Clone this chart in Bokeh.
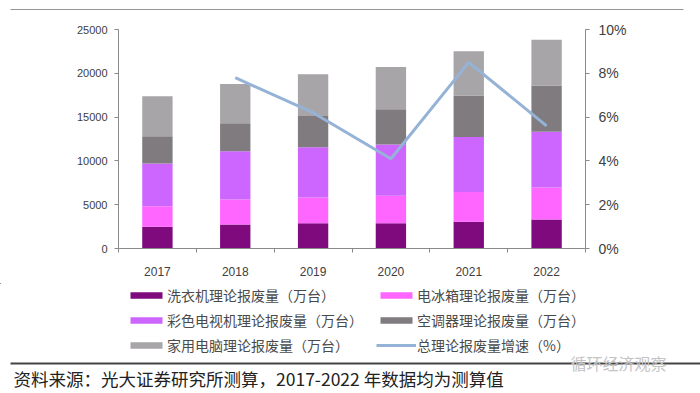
from bokeh.plotting import figure
from bokeh.models import (ColumnDataSource, Range1d, LinearAxis, FixedTicker,
                          PrintfTickFormatter, Legend, LegendItem, Label, BoxAnnotation)
from bokeh.embed import file_html
from bokeh.resources import INLINE

years = ["2017", "2018", "2019", "2020", "2021", "2022"]
washer = [2470, 2740, 2890, 2890, 3040, 3310]
fridge = [2360, 2850, 2930, 3120, 3420, 3650]
tv = [4860, 5510, 5740, 5850, 6270, 6380]
ac = [3120, 3190, 3570, 4030, 4750, 5280]
pc = [4560, 4480, 4750, 4830, 5050, 5210]
growth_years = ["2018", "2019", "2020", "2021", "2022"]
growth = [7.8, 6.2, 4.1, 8.5, 5.6]

names = ["洗衣机理论报废量（万台）", "电冰箱理论报废量（万台）", "彩色电视机理论报废量（万台）",
         "空调器理论报废量（万台）", "家用电脑理论报废量（万台）"]
line_name = "总理论报废量增速（%）"
colors = ["#7E0A7E", "#FF66FF", "#CC66FF", "#7F7B7F", "#A8A5A8"]
line_color = "#95B3D7"
keys = ["washer", "fridge", "tv", "ac", "pc"]

W = 700

# ---- thin top rule ----
f_top = figure(width=W, height=10, output_backend="svg", toolbar_location=None,
               x_axis_type=None, y_axis_type=None, min_border_left=10, min_border_right=17,
               min_border_top=7, min_border_bottom=1)
f_top.outline_line_color = None
f_top.grid.visible = False
f_top.background_fill_color = "#2b2b2b"
f_top.border_fill_color = "white"

# ---- main chart ----
xs = list(range(len(years)))
src = ColumnDataSource(dict(x=xs, washer=washer, fridge=fridge, tv=tv, ac=ac, pc=pc))
gx = [years.index(y) for y in growth_years]
gsrc = ColumnDataSource(dict(x=gx, g=growth))

p = figure(width=W, height=273, output_backend="svg", toolbar_location=None,
           x_range=Range1d(-0.5, len(years) - 0.5), y_range=Range1d(0, 25000),
           min_border_left=118, min_border_right=115, min_border_top=19, min_border_bottom=35)
p.extra_y_ranges = {"pct": Range1d(0, 10)}
p.outline_line_color = None
p.grid.visible = False

bars = p.vbar_stack(keys, x="x", width=0.39, color=colors, line_color=None, source=src)
ln = p.line("x", "g", source=gsrc, y_range_name="pct", line_color=line_color, line_width=3)

axc = "#8a8a8a"
tc = "#404040"
xa = p.xaxis[0]
xa.ticker = FixedTicker(ticks=xs, minor_ticks=[i - 0.5 for i in range(len(years) + 1)])
xa.major_label_overrides = {i: y for i, y in zip(xs, years)}
xa.major_tick_out = 0
xa.major_tick_in = 0
xa.major_tick_line_color = None
xa.minor_tick_in = 0
xa.minor_tick_out = 4
xa.minor_tick_line_color = axc
xa.axis_line_color = axc
xa.major_label_standoff = 14
xa.major_label_text_font = "Liberation Sans"
xa.major_label_text_font_size = "12px"
xa.major_label_text_color = tc

ya = p.yaxis[0]
ya.ticker = FixedTicker(ticks=[0, 5000, 10000, 15000, 20000, 25000])
ya.major_tick_in = 0
ya.major_tick_out = 4
ya.minor_tick_line_color = None
ya.major_tick_line_color = axc
ya.axis_line_color = axc
ya.major_label_standoff = 7
ya.major_label_text_font = "Liberation Sans"
ya.major_label_text_font_size = "11px"
ya.major_label_text_color = tc

ra = LinearAxis(y_range_name="pct", ticker=FixedTicker(ticks=[0, 2, 4, 6, 8, 10]),
                formatter=PrintfTickFormatter(format="%d%%"))
ra.major_tick_in = 0
ra.major_tick_out = 4
ra.minor_tick_line_color = None
ra.major_tick_line_color = axc
ra.axis_line_color = axc
ra.major_label_standoff = 9
ra.major_label_text_font = "Liberation Sans"
ra.major_label_text_font_size = "14px"
ra.major_label_text_color = tc
p.add_layout(ra, "right")

# ---- bottom: legend, rule, source note ----
QH = 108
q = figure(width=W, height=QH, output_backend="svg", toolbar_location=None,
           x_axis_type=None, y_axis_type=None, x_range=Range1d(100, 100 + W),
           y_range=Range1d(-300, -300 + QH), min_border=0)
q.outline_line_color = None
q.grid.visible = False

# legend proxies share the real data but sit outside this panel's visible range
proxies = q.vbar_stack(keys, x="x", width=0.39, color=colors, line_color=None, source=src)
lproxy = q.line("x", "g", source=gsrc, line_color=line_color, line_width=3)

items = [LegendItem(label=names[0], renderers=[proxies[0]]),
         LegendItem(label=names[1], renderers=[proxies[1]]),
         LegendItem(label=names[2], renderers=[proxies[2]]),
         LegendItem(label=names[3], renderers=[proxies[3]]),
         LegendItem(label=names[4], renderers=[proxies[4]]),
         LegendItem(label=line_name, renderers=[lproxy])]
lg = Legend(items=items, location=(126, 36), orientation="horizontal", ncols=2)
lg.glyph_width = 40
lg.glyph_height = 8
lg.label_height = 8
lg.label_width = 204
lg.spacing = 5
lg.padding = 0
lg.margin = 0
lg.label_standoff = 1
lg.border_line_color = None
lg.background_fill_alpha = 0
lg.label_text_font = "Noto Sans CJK SC"
lg.label_text_font_size = "14px"
lg.label_text_color = "#4a4a4a"
q.add_layout(lg)

q.add_layout(BoxAnnotation(left=10, right=700, bottom=27, top=29, left_units="screen",
                           right_units="screen", top_units="screen", bottom_units="screen",
                           fill_color="#444444", fill_alpha=1, line_color=None))
q.add_layout(Label(x=13, y=13, x_units="screen", y_units="screen",
                   text="资料来源：光大证券研究所测算，2017-2022 年数据均为测算值",
                   text_font="Noto Sans CJK SC", text_font_size="17.5px", text_color="#222222",
                   text_baseline="middle"))
q.add_layout(Label(x=570, y=29, x_units="screen", y_units="screen",
                   text="循环经济观察", text_font="Noto Sans CJK SC", text_font_size="16px",
                   text_color="#c4c4c4", text_baseline="middle"))

open("out.html", "w").write(file_html([f_top, p, q], INLINE))
